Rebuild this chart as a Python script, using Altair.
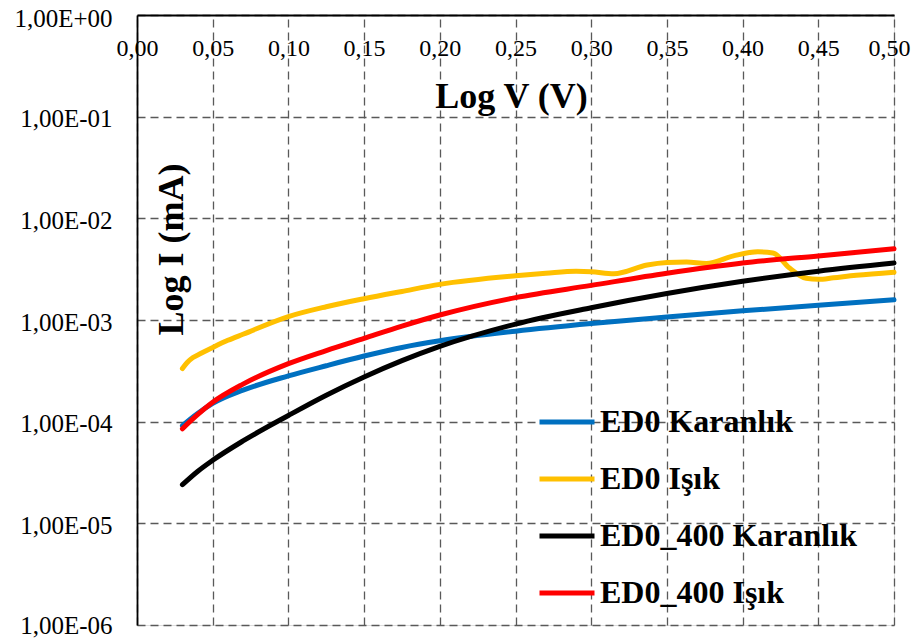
import altair as alt
import pandas as pd

series_names = ["ED0 Karanlık", "ED0 Işık", "ED0_400 Karanlık", "ED0_400 Işık"]
series_colors = ["#0070C0", "#FFC000", "#000000", "#FF0000"]

x_ticks = [0.00, 0.05, 0.10, 0.15, 0.20, 0.25, 0.30, 0.35, 0.40, 0.45, 0.50]
y_ticks = [1e-6, 1e-5, 1e-4, 1e-3, 1e-2, 1e-1, 1e0]

v_common = [0.03, 0.04, 0.05, 0.07, 0.10, 0.125, 0.15, 0.175, 0.20, 0.25, 0.30, 0.35, 0.40, 0.45, 0.50]
i_ed0_dark = [9.12e-5, 1.20e-4, 1.51e-4, 2.04e-4, 2.82e-4, 3.55e-4, 4.42e-4, 5.37e-4, 6.24e-4,
              7.76e-4, 9.23e-4, 1.07e-3, 1.23e-3, 1.40e-3, 1.58e-3]
i_ed0_400_dark = [2.40e-5, 3.24e-5, 4.17e-5, 6.46e-5, 1.15e-4, 1.82e-4, 2.75e-4, 3.98e-4, 5.50e-4,
                  9.12e-4, 1.32e-3, 1.82e-3, 2.40e-3, 3.02e-3, 3.63e-3]
i_ed0_400_light = [8.51e-5, 1.17e-4, 1.55e-4, 2.34e-4, 3.72e-4, 5.01e-4, 6.61e-4, 8.71e-4, 1.12e-3,
                   1.66e-3, 2.19e-3, 2.88e-3, 3.63e-3, 4.27e-3, 5.01e-3]

v_ed0_light = [0.03, 0.033, 0.037, 0.042, 0.05, 0.06, 0.07, 0.10, 0.125, 0.15, 0.175, 0.20, 0.25,
               0.27, 0.29, 0.30, 0.315, 0.337, 0.35, 0.363, 0.376, 0.394, 0.41, 0.42, 0.431, 0.442,
               0.45, 0.46, 0.475, 0.50]
i_ed0_light = [3.33e-4, 3.80e-4, 4.27e-4, 4.68e-4, 5.37e-4, 6.31e-4, 7.24e-4, 1.08e-3, 1.35e-3,
               1.62e-3, 1.91e-3, 2.24e-3, 2.72e-3, 2.88e-3, 3.02e-3, 2.99e-3, 2.85e-3, 3.47e-3,
               3.67e-3, 3.72e-3, 3.59e-3, 4.27e-3, 4.68e-3, 4.57e-3, 3.24e-3, 2.57e-3, 2.51e-3,
               2.60e-3, 2.75e-3, 2.95e-3]

rows = []
for name, xs, ys in [
    (series_names[0], v_common, i_ed0_dark),
    (series_names[1], v_ed0_light, i_ed0_light),
    (series_names[2], v_common, i_ed0_400_dark),
    (series_names[3], v_common, i_ed0_400_light),
]:
    for xv, yv in zip(xs, ys):
        rows.append({"series": name, "v": xv, "i": yv})
df = pd.DataFrame(rows)

FONT = "Liberation Serif"

chart = alt.Chart(df).mark_line(
    strokeWidth=5, strokeCap="round", strokeJoin="round", interpolate="monotone"
).encode(
    x=alt.X(
        "v:Q",
        scale=alt.Scale(domain=[0, 0.5], nice=False, zero=False),
        axis=alt.Axis(
            orient="top", values=x_ticks, title="Log V (V)",
            labelExpr="replace(format(datum.value, '.2f'), '.', ',')",
            labelFlush=False, labelOverlap=False, ticks=False,
            labelPadding=-40, labelBaseline="alphabetic",
            labelOffset={"condition": {"test": "datum.value >= 0.49", "value": -5}, "value": 0},
            labelFont=FONT, labelFontSize=24, labelColor="#000000",
            titleFont=FONT, titleFontSize=36, titleFontWeight="bold", titleColor="#000000",
            titleX=374, titleY=92, titleBaseline="alphabetic", titleAlign="center",
            domainColor="#000000", domainWidth=1.8,
            grid=True, gridColor="#595959", gridDash=[8, 5], gridWidth=1.3,
        ),
    ),
    y=alt.Y(
        "i:Q",
        scale=alt.Scale(type="log", domain=[1e-6, 1], nice=False),
        axis=alt.Axis(
            values=y_ticks, title="Log I (mA)",
            labelExpr="'1,00E' + (datum.value >= 1 ? '+' : '-') + '0' + abs(round(log(datum.value)/LN10))",
            labelOverlap=False, ticks=False, labelPadding=25, labelFlush=False,
            labelOffset={"condition": [
                {"test": "datum.value >= 0.5", "value": 3},
                {"test": "datum.value <= 2e-6", "value": 0},
            ], "value": 2},
            labelFont=FONT, labelFontSize=25, labelColor="#000000",
            titleFont=FONT, titleFontSize=36, titleFontWeight="bold", titleColor="#000000",
            titleX=45, titleY=234, titleBaseline="alphabetic", titleAlign="center", titleAngle=270,
            domainColor="#000000", domainWidth=1.8,
            grid=True, gridColor="#595959", gridDash=[8, 5], gridWidth=1.3,
        ),
    ),
    color=alt.Color(
        "series:N",
        scale=alt.Scale(domain=series_names, range=series_colors),
        legend=alt.Legend(
            title=None, orient="none", legendX=400, legendY=377,
            symbolType="stroke", symbolSize=3025, symbolStrokeWidth=5,
            labelFont=FONT, labelFontSize=32, labelFontWeight="bold", labelColor="#000000",
            labelOffset=3, rowPadding=11, padding=0, labelLimit=400,
        ),
    ),
    order=alt.Order("v:Q"),
).properties(
    width=757, height=610,
    autosize=alt.AutoSizeParams(type="none"),
    padding={"left": 129, "top": 7, "right": 18, "bottom": 14},
).configure_view(stroke=None).configure(background="#ffffff")

chart.save("out.html", embed_options={"renderer": "svg", "actions": False})
